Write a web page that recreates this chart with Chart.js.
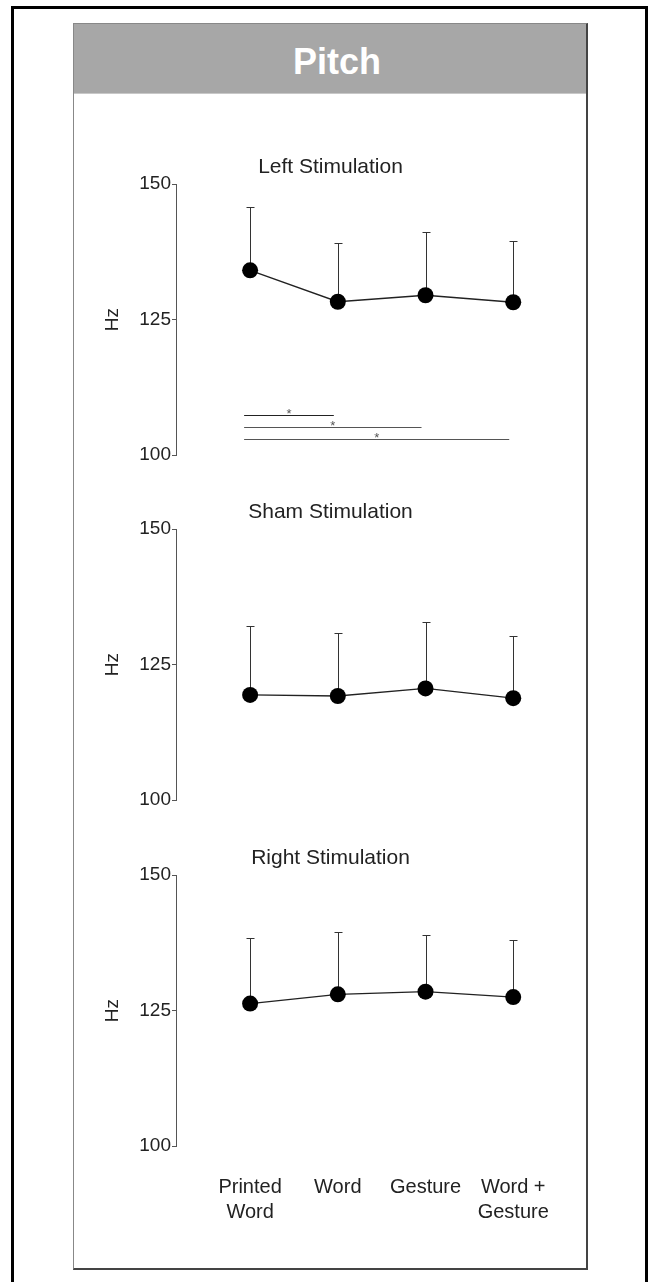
<!DOCTYPE html>
<html>
<head>
<meta charset="utf-8">
<script src="https://cdn.jsdelivr.net/npm/chart.js@4.4.0/dist/chart.umd.min.js"></script>
<style>
  html, body { margin: 0; padding: 0; background: #fff; }
  body { width: 651px; height: 1282px; position: relative; overflow: hidden; font-family: "Liberation Sans", Arial, sans-serif; }
  #frame { position: absolute; left: 11px; top: 6px; width: 637px; height: 1300px; border: 3px solid #000; box-sizing: border-box; }
  #panel { position: absolute; left: 73px; top: 23px; width: 515px; height: 1247px; box-sizing: border-box;
           border: 1px solid #888; border-right: 2px solid #444; border-bottom: 2px solid #444; }
  #header { height: 63px; padding: 6px 0 0 14px; line-height: 63px; background: #a7a7a7; border-bottom: 1px solid #c8c8c8;
            color: #fff; font-weight: bold; font-size: 36px; text-align: center; }
  canvas { position: absolute; left: 74px; }
</style>
</head>
<body>
<div id="frame"></div>
<div id="panel"><div id="header">Pitch</div></div>
<canvas id="left" width="513" height="320" style="top:150px"></canvas>
<canvas id="sham" width="513" height="320" style="top:495px"></canvas>
<canvas id="right" width="513" height="423" style="top:841px"></canvas>
<script>
const FONT = '"Liberation Sans", Arial, sans-serif';

const categories = [['Printed', 'Word'], 'Word', 'Gesture', ['Word +', 'Gesture']];
const yTicks = [100, 125, 150];

const leftMeans  = [134.1, 128.3, 129.5, 128.2];
const leftUpper  = [145.8, 139.2, 141.1, 139.5];
const shamMeans  = [119.4, 119.2, 120.6, 118.8];
const shamUpper  = [132.1, 130.9, 132.9, 130.3];
const rightMeans = [126.3, 128.0, 128.5, 127.5];
const rightUpper = [138.4, 139.5, 138.9, 138.0];

// significant pairs (left stimulation): from category, to category, level in Hz
const sigFrom  = [1, 1, 1];
const sigTo    = [2, 3, 4];
const sigLevel = [107.3, 105.2, 102.9];

function errorPlugin(means, upper, withSig) {
  return {
    id: 'errorBars',
    beforeDatasetsDraw(chart) {
      const { ctx, scales: { x, y } } = chart;
      ctx.save();
      ctx.strokeStyle = '#333';
      ctx.lineWidth = 1;
      upper.forEach((u, i) => {
        const px = Math.round(x.getPixelForValue(i + 1)) + 0.5;
        const top = Math.round(y.getPixelForValue(u)) + 0.5;
        const base = y.getPixelForValue(means[i]);
        ctx.beginPath();
        ctx.moveTo(px, base);
        ctx.lineTo(px, top);
        ctx.moveTo(px - 4, top);
        ctx.lineTo(px + 4, top);
        ctx.stroke();
      });
      if (withSig) {
        sigLevel.forEach((lvl, i) => {
          const x0 = x.getPixelForValue(sigFrom[i]) - 6;
          const x1 = x.getPixelForValue(sigTo[i]) - 4;
          const py = Math.round(y.getPixelForValue(lvl)) + 0.5;
          ctx.strokeStyle = i === 0 ? '#222' : '#555';
          ctx.lineWidth = 1.2;
          ctx.beginPath();
          ctx.moveTo(x0, py);
          ctx.lineTo(x1, py);
          ctx.stroke();
          ctx.fillStyle = '#555';
          ctx.font = '13px ' + FONT;
          ctx.textAlign = 'center';
          ctx.textBaseline = 'alphabetic';
          ctx.fillText('*', (x0 + x1) / 2, py + 2);
        });
      }
      ctx.restore();
    }
  };
}

function makeChart(id, title, means, upper, showX, withSig) {
  return new Chart(document.getElementById(id), {
    type: 'line',
    data: {
      datasets: [{
        data: means.map((v, i) => ({ x: i + 1, y: v })),
        borderColor: '#222',
        borderWidth: 1.3,
        pointRadius: 8,
        pointBackgroundColor: '#000',
        pointBorderColor: '#000',
        pointBorderWidth: 0
      }]
    },
    options: {
      responsive: false,
      animation: false,
      events: [],
      layout: { padding: { left: 0, right: 0, top: 0, bottom: showX ? 10 : 15 } },
      plugins: {
        legend: { display: false },
        tooltip: { enabled: false },
        title: {
          display: true,
          text: title,
          color: '#222',
          font: { size: 21, family: FONT, weight: 'normal' },
          padding: { top: 5, bottom: 4 }
        }
      },
      scales: {
        x: {
          type: 'linear',
          min: 0.155,
          max: 4.75,
          display: showX,
          grid: { display: false, drawTicks: false },
          border: { display: false },
          afterBuildTicks: (s) => { s.ticks = categories.map((_, i) => ({ value: i + 1 })); },
          ticks: {
            padding: 29,
            color: '#222',
            autoSkip: false,
            maxRotation: 0,
            font: { size: 20, family: FONT, lineHeight: 1.25 },
            callback: (v) => categories[v - 1]
          }
        },
        y: {
          min: 100,
          max: 150,
          afterBuildTicks: (s) => { s.ticks = yTicks.map((v) => ({ value: v })); },
          afterFit: (s) => { s.width = 102; },
          grid: { drawOnChartArea: false, tickLength: 4, color: '#555' },
          border: { color: '#555' },
          ticks: { padding: 1, color: '#222', font: { size: 19, family: FONT } },
          title: {
            display: true,
            text: 'Hz',
            color: '#222',
            font: { size: 19, family: FONT },
            padding: { top: 27 }
          }
        }
      }
    },
    plugins: [errorPlugin(means, upper, withSig)]
  });
}

makeChart('left', 'Left Stimulation', leftMeans, leftUpper, false, true);
makeChart('sham', 'Sham Stimulation', shamMeans, shamUpper, false, false);
makeChart('right', 'Right Stimulation', rightMeans, rightUpper, true, false);
</script>
</body>
</html>
